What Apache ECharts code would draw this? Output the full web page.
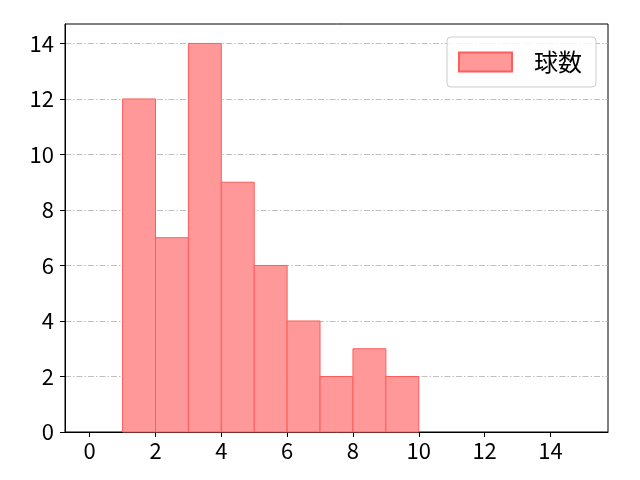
<!DOCTYPE html>
<html><head><meta charset="utf-8">
<script src="https://cdn.jsdelivr.net/npm/echarts@6/dist/echarts.min.js"></script>
<style>html,body{margin:0;padding:0;background:#fff}#c{width:640px;height:480px}</style>
</head><body><div id="c"></div>
<script>
const binEdges = [0,1,2,3,4,5,6,7,8,9,10,11,12,13,14,15];
const counts = [0,12,7,14,9,6,4,2,3,2,0,0,0,0,0];
const xTicks = [0,2,4,6,8,10,12,14];
const yTicks = [0,2,4,6,8,10,12,14];
const seriesName = '球数';

const data = counts.map((c,i)=>[binEdges[i], binEdges[i+1], c]);
const FONT = '"Noto Sans CJK JP", "Noto Sans", sans-serif';
const chart = echarts.init(document.getElementById('c'));
chart.setOption({
  animation:false,
  backgroundColor:'#fff',
  textStyle:{fontFamily:FONT},
  grid:{left:65,right:32,top:24,bottom:48,show:true,borderColor:'#000',borderWidth:1,backgroundColor:'transparent'},
  legend:{
    right:44, top:37, orient:'vertical',
    padding:[13,14,13,11],
    borderColor:'#cccccc', borderWidth:1, borderRadius:4, backgroundColor:'rgba(255,255,255,0.8)',
    itemWidth:53, itemHeight:19, icon:'rect',
    textStyle:{fontSize:24, color:'#000', fontFamily:FONT, lineHeight:20, padding:[0,0,0,17]},
    data:[seriesName]
  },
  xAxis:{
    type:'value', min:-0.75, max:15.75,
    axisLine:{show:true,onZero:false,lineStyle:{color:'#000',width:1}},
    axisTick:{show:true,length:5,inside:false,lineStyle:{color:'#000'},customValues:xTicks},
    axisLabel:{fontSize:22,color:'#000',margin:8,fontFamily:FONT,customValues:xTicks},
    splitLine:{show:false}
  },
  yAxis:{
    type:'value', min:0, max:14.7,
    axisLine:{show:true,onZero:false,lineStyle:{color:'#000',width:1}},
    axisTick:{show:true,length:5,inside:false,lineStyle:{color:'#000'},customValues:yTicks},
    axisLabel:{fontSize:22,color:'#000',margin:11,fontFamily:FONT,customValues:yTicks},
    splitLine:{show:true,lineStyle:{color:'#b0b0b0',width:0.8,type:[6,2,1.5,2]}}
  },
  series:[{
    name:seriesName,
    type:'custom',
    itemStyle:{color:'#FF9999',borderColor:'#FF5C5C',borderWidth:1},
    encode:{x:[0,1],y:2},
    data:data,
    renderItem:function(params, api){
      const lo = api.value(0), hi = api.value(1), v = api.value(2);
      if (!v) return null;
      const p1 = api.coord([lo, v]);
      const p2 = api.coord([hi, 0]);
      return {type:'rect',
        shape:{x:p1[0], y:p1[1], width:p2[0]-p1[0], height:p2[1]-p1[1]},
        style:{fill:'#FF9999', stroke:'#FF5C5C', lineWidth:1}};
    }
  }]
});
</script></body></html>
